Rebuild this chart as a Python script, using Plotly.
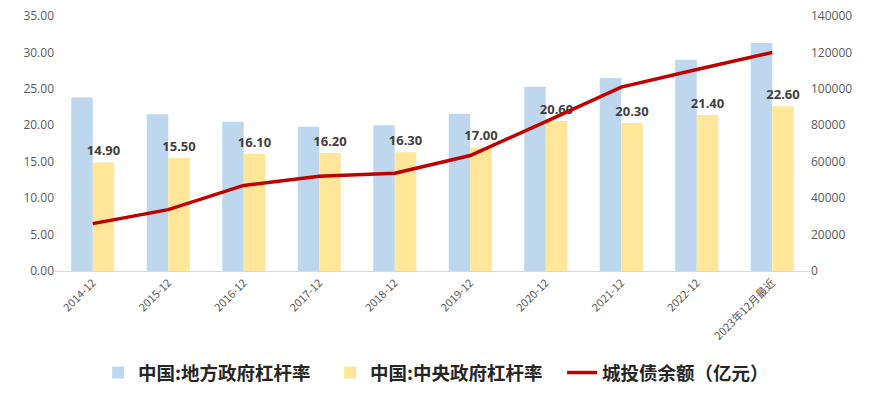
import plotly.graph_objects as go

categories = ["2014-12", "2015-12", "2016-12", "2017-12", "2018-12", "2019-12",
              "2020-12", "2021-12", "2022-12", "2023年12月最近"]
local_gov = [23.8, 21.5, 20.5, 19.8, 20.0, 21.6, 25.3, 26.5, 29.0, 31.3]
central_gov = [14.9, 15.5, 16.1, 16.2, 16.3, 17.0, 20.6, 20.3, 21.4, 22.6]
lgfv_debt = [26000, 33700, 47000, 52000, 53700, 63400, 82000, 101000, 110600, 120000]

left_ticks = [0, 5, 10, 15, 20, 25, 30, 35]
right_ticks = [0, 20000, 40000, 60000, 80000, 100000, 120000, 140000]

FONT = "Noto Sans CJK SC"
GRAY = "#595959"

fig = go.Figure()
fig.add_trace(go.Bar(
    x=categories, y=local_gov, name="中国:地方政府杠杆率",
    marker=dict(color="#BDD7EE", line=dict(width=0)),
))
fig.add_trace(go.Bar(
    x=categories, y=central_gov, name="中国:中央政府杠杆率",
    marker=dict(color="#FFE699", line=dict(width=0)),
    text=[f"{v:.2f}" for v in central_gov], textposition="outside",
    constraintext="none",
    textfont=dict(family="Open Sans", size=13, color="#404040", weight="bold"),
    cliponaxis=False,
))
fig.add_trace(go.Scatter(
    x=categories, y=lgfv_debt, name="城投债余额（亿元）", yaxis="y2",
    mode="lines", line=dict(color="#C00000", width=3.5),
))

fig.update_layout(
    width=873, height=395,
    margin=dict(l=55, r=63, t=16, b=123.5, autoexpand=False),
    paper_bgcolor="white", plot_bgcolor="white",
    barmode="group", bargap=0.43, bargroupgap=0,
    font=dict(family=FONT, color=GRAY),
    xaxis=dict(
        type="category", tickangle=-45, showgrid=False, automargin=False,
        showline=True, linecolor="#D9D9D9", linewidth=1,
        ticks="", tickfont=dict(size=11, color=GRAY, family=FONT),
    ),
    yaxis=dict(
        range=[0, 35], tickvals=left_ticks, tickformat=".2f", automargin=False,
        showgrid=False, zeroline=False, showline=False, ticks="",
        tickfont=dict(size=12, color=GRAY, family="Open Sans"),
    ),
    yaxis2=dict(
        range=[0, 140000], tickvals=right_ticks, tickformat="d", automargin=False,
        overlaying="y", side="right",
        showgrid=False, zeroline=False, showline=False, ticks="",
        tickfont=dict(size=12, color=GRAY, family="Open Sans"),
    ),
    legend=dict(
        orientation="h", x=0.518, xanchor="center", y=-0.4, yanchor="middle",
        font=dict(size=18.5, color="#262626", family=FONT, weight="bold"),
        itemwidth=30, traceorder="normal",
        entrywidth=187, entrywidthmode="pixels",
    ),
)

fig.write_html("out.html", config={"displayModeBar": False},
               post_script="document.body.style.margin='0';document.body.style.padding='0';")
